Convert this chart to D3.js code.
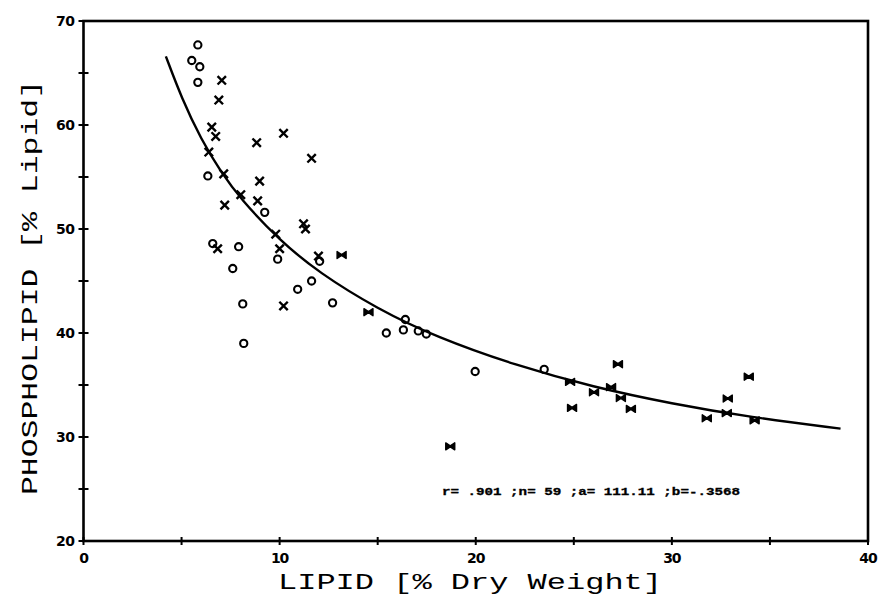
<!DOCTYPE html>
<html>
<head>
<meta charset="utf-8">
<script src="https://cdn.jsdelivr.net/npm/d3@7"></script>
<style>
  html, body { margin: 0; padding: 0; background: #fff; }
  svg { display: block; }
</style>
</head>
<body>
<svg id="chart"></svg>
<script>
// readings: [lipid % dry weight, phospholipid % lipid]
const circles = [
  [5.83, 67.7], [5.52, 66.2], [5.93, 65.6], [5.83, 64.1], [6.34, 55.1],
  [6.59, 48.6], [7.91, 48.3], [7.61, 46.2], [8.12, 42.8], [9.24, 51.6],
  [9.90, 47.1], [12.04, 46.9], [10.92, 44.2], [11.63, 45.0], [12.70, 42.9],
  [8.17, 39.0], [16.41, 41.3], [15.44, 40.0], [16.31, 40.3], [17.07, 40.2],
  [17.48, 39.9], [19.97, 36.3], [23.49, 36.5]
];

const crosses = [
  [7.05, 64.3], [6.90, 62.4], [6.54, 59.8], [6.74, 58.9], [8.83, 58.3],
  [10.20, 59.2], [11.63, 56.8], [6.39, 57.4], [7.15, 55.3], [8.98, 54.6],
  [8.02, 53.3], [7.20, 52.3], [8.88, 52.7], [9.80, 49.5], [11.22, 50.5],
  [11.32, 50.0], [6.84, 48.1], [10.00, 48.1], [11.98, 47.4], [10.20, 42.6]
];

const bowties = [
  [13.16, 47.5], [14.53, 42.0], [18.70, 29.1], [24.81, 35.3], [24.91, 32.8],
  [26.03, 34.3], [26.90, 34.8], [27.25, 37.0], [27.40, 33.75], [27.91, 32.7],
  [31.78, 31.8], [32.85, 33.7], [32.80, 32.3], [33.92, 35.8], [34.22, 31.6]
];

// fitted curve as drawn
const fitCurve = [
  [4.2, 66.6], [5, 62.6], [6, 58.6], [7, 55.5], [8, 52.9], [10, 48.9],
  [12, 45.8], [15, 42.3], [18, 39.6], [22, 36.9], [26, 34.8], [30, 33.2],
  [34, 31.9], [38.6, 30.8]
];

const xTicks = [0, 10, 20, 30, 40];
const xMinor = [5, 15, 25, 35];
const yTicks = [20, 30, 40, 50, 60, 70];
const yMinor = [25, 35, 45, 55, 65];

const statsText = "r= .901 ;n= 59 ;a= 111.11 ;b=-.3568";
const xTitle = "LIPID [% Dry Weight]";
const yTitle = "PHOSPHOLIPID [% Lipid]";

const width = 878, height = 599;
const margin = { top: 21, right: 10, bottom: 58, left: 83.5 };
const plotW = 868 - margin.left;
const plotH = 541 - margin.top;

const svg = d3.select('#chart')
  .attr('width', width)
  .attr('height', height);

const g = svg.append('g')
  .attr('transform', `translate(${margin.left},${margin.top})`);

const x = d3.scaleLinear().domain([0, 40]).range([0, plotW]);
const y = d3.scaleLinear().domain([20, 70]).range([plotH, 0]);

const ink = '#000';
const tickFont = '"DejaVu Sans", sans-serif';
const monoFont = '"Liberation Mono", "DejaVu Sans Mono", monospace';

// frame
g.append('rect')
  .attr('x', 0).attr('y', 0)
  .attr('width', plotW).attr('height', plotH)
  .attr('fill', 'none')
  .attr('stroke', ink)
  .attr('stroke-width', 2.6);

// left axis: crossing ticks
g.selectAll('.ytick')
  .data(yTicks.concat(yMinor))
  .enter()
  .append('line')
  .attr('x1', -5).attr('x2', 5)
  .attr('y1', d => y(d)).attr('y2', d => y(d))
  .attr('stroke', ink)
  .attr('stroke-width', 2);

g.selectAll('.ylabel')
  .data(yTicks)
  .enter()
  .append('text')
  .attr('x', -9)
  .attr('y', d => y(d))
  .attr('dy', '0.36em')
  .attr('text-anchor', 'end')
  .style('font-family', tickFont)
  .style('font-weight', 'bold')
  .style('font-size', '14px')
  .style('letter-spacing', '-0.5px')
  .text(d => d);

// bottom axis
g.selectAll('.xtick')
  .data(xTicks.concat(xMinor))
  .enter()
  .append('line')
  .attr('x1', d => x(d)).attr('x2', d => x(d))
  .attr('y1', plotH - 4).attr('y2', plotH + 4)
  .attr('stroke', ink)
  .attr('stroke-width', 2);

g.selectAll('.xlabel')
  .data(xTicks)
  .enter()
  .append('text')
  .attr('x', d => x(d))
  .attr('y', plotH + 22)
  .attr('text-anchor', 'middle')
  .style('font-family', tickFont)
  .style('font-weight', 'bold')
  .style('font-size', '14px')
  .style('letter-spacing', '-1px')
  .text(d => d);

// titles
svg.append('text')
  .attr('x', 278)
  .attr('y', 589)
  .attr('textLength', 384)
  .attr('lengthAdjust', 'spacingAndGlyphs')
  .style('font-family', monoFont)
  .style('font-size', '22px')
  .text(xTitle);

svg.append('text')
  .attr('transform', 'translate(37,495) rotate(-90)')
  .attr('textLength', 415)
  .attr('lengthAdjust', 'spacingAndGlyphs')
  .style('font-family', monoFont)
  .style('font-size', '22px')
  .text(yTitle);

// fitted curve
const line = d3.line()
  .x(d => x(d[0]))
  .y(d => y(d[1]))
  .curve(d3.curveBasis);

g.append('path')
  .datum(fitCurve)
  .attr('d', line)
  .attr('fill', 'none')
  .attr('stroke', ink)
  .attr('stroke-width', 2.4);

// open circles
g.selectAll('.circ')
  .data(circles)
  .enter()
  .append('circle')
  .attr('cx', d => x(d[0]))
  .attr('cy', d => y(d[1]))
  .attr('r', 3.6)
  .attr('fill', 'none')
  .attr('stroke', ink)
  .attr('stroke-width', 2.1);

// crosses
const crossPath = (s) => `M${-s},${-s}L${s},${s}M${-s},${s}L${s},${-s}`;

g.selectAll('.cross')
  .data(crosses)
  .enter()
  .append('path')
  .attr('transform', d => `translate(${x(d[0])},${y(d[1])})`)
  .attr('d', crossPath(4.2))
  .attr('fill', 'none')
  .attr('stroke', ink)
  .attr('stroke-width', 2.4);

// bowtie marks (overstruck crosses, solid)
g.selectAll('.bow')
  .data(bowties)
  .enter()
  .append('path')
  .attr('transform', d => `translate(${x(d[0])},${y(d[1])})`)
  .attr('d', 'M-4.5,-3.5L0,-0.5L4.5,-3.5L4.5,3.5L0,0.5L-4.5,3.5Z')
  .attr('fill', ink)
  .attr('stroke', ink)
  .attr('stroke-width', 1.4)
  .attr('stroke-linejoin', 'round');

// stats annotation
svg.append('text')
  .attr('x', 442)
  .attr('y', 495)
  .attr('textLength', 298)
  .attr('lengthAdjust', 'spacingAndGlyphs')
  .style('font-family', monoFont)
  .style('font-weight', 'bold')
  .style('font-size', '10px')
  .style('stroke', ink)
  .style('stroke-width', 0.3)
  .text(statsText);
</script>
</body>
</html>
